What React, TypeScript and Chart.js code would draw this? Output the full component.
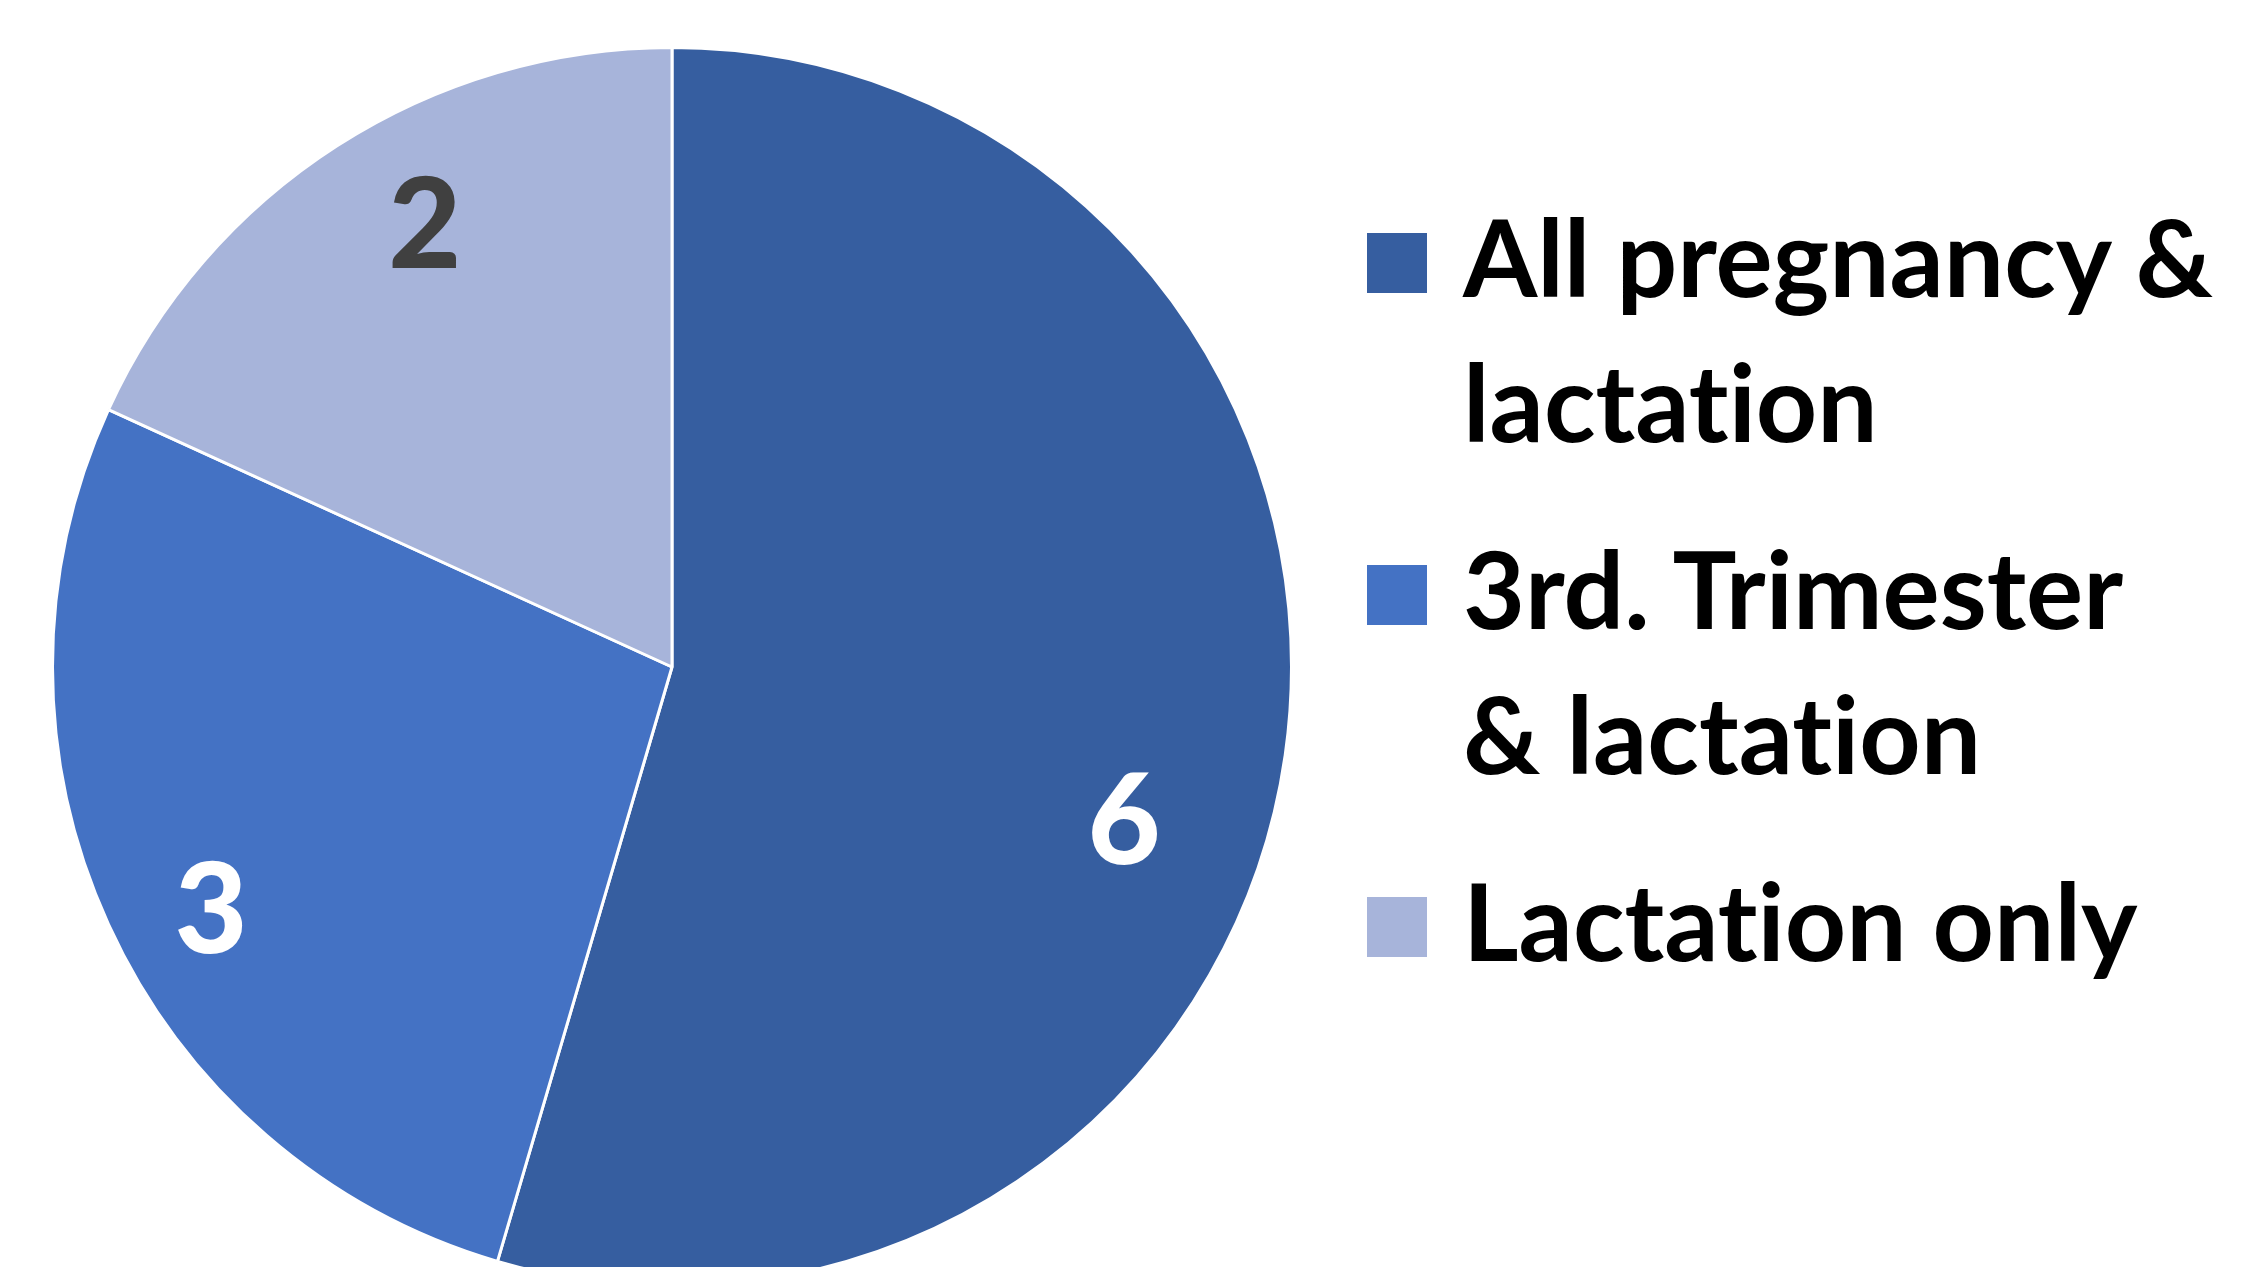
import React, { useEffect, useRef } from "react";
import { Chart, registerables } from "chart.js";

Chart.register(...registerables);

const categories: string[][] = [
  ["All pregnancy &", "lactation"],
  ["3rd. Trimester", "& lactation"],
  ["Lactation only"],
];
const values: number[] = [6, 3, 2];
const colors: string[] = ["#365EA0", "#4472C4", "#A7B4DA"];
const labelColors: string[] = ["#FFFFFF", "#FFFFFF", "#404040"];
// label placement: [angle offset in degrees from slice middle, fraction of radius]
const labelPlacement: [number, number][] = [
  [10.4, 0.77],
  [-3.1, 0.84],
  [3.6, 0.82],
];

const FONT = "Lato, 'Open Sans', sans-serif";

const valueLabels = {
  id: "valueLabels",
  afterDatasetsDraw(chart: any) {
    const ctx = chart.ctx;
    const meta = chart.getDatasetMeta(0);
    ctx.save();
    ctx.font = `900 126px ${FONT}`;
    ctx.textAlign = "center";
    ctx.textBaseline = "middle";
    meta.data.forEach((arc: any, i: number) => {
      const p = arc.getProps(["x", "y", "startAngle", "endAngle", "outerRadius"], true);
      const [off, frac] = labelPlacement[i];
      const mid = (p.startAngle + p.endAngle) / 2 + (off * Math.PI) / 180;
      const r = p.outerRadius * frac;
      ctx.fillStyle = labelColors[i];
      ctx.fillText(String(values[i]), p.x + Math.cos(mid) * r, p.y + Math.sin(mid) * r + 4);
    });
    ctx.restore();
  },
};

export default function App() {
  const ref = useRef<HTMLCanvasElement | null>(null);
  useEffect(() => {
    if (!ref.current) return;
    const chart = new Chart(ref.current, {
      type: "pie",
      data: {
        labels: categories.map((c) => c.join(" ")),
        datasets: [
          {
            data: values,
            backgroundColor: colors,
            borderColor: "#FFFFFF",
            borderWidth: 3,
          },
        ],
      },
      options: {
        responsive: false,
        animation: false,
        layout: { padding: { top: 46, bottom: 46, left: 51, right: 51 } },
        plugins: {
          legend: { display: false },
          tooltip: { enabled: false },
        },
      },
      plugins: [valueLabels],
    });
    return () => chart.destroy();
  }, []);

  return (
    <div
      style={{
        position: "fixed",
        left: 0,
        top: 0,
        width: 2245,
        height: 1267,
        overflow: "hidden",
        background: "#FFFFFF",
      }}
    >
      <canvas
        ref={ref}
        width={1344}
        height={1334}
        style={{ position: "absolute", left: 0, top: 0, width: 1344, height: 1334 }}
      />
      <div
        style={{
          position: "absolute",
          left: 1367,
          top: 183,
          fontFamily: FONT,
          fontWeight: 700,
          fontSize: 107,
          lineHeight: "145px",
          color: "#000000",
          fontVariantLigatures: "none",
          fontFeatureSettings: '"liga" 0',
        }}
      >
        {categories.map((lines, i) => (
          <div key={i} style={{ position: "relative", paddingLeft: 96, marginBottom: 42 }}>
            <div
              style={{
                position: "absolute",
                left: 0,
                top: 50,
                width: 60,
                height: 60,
                background: colors[i],
              }}
            />
            {lines.map((t, j) => (
              <div key={j} style={{ whiteSpace: "nowrap" }}>
                {t}
              </div>
            ))}
          </div>
        ))}
      </div>
    </div>
  );
}
